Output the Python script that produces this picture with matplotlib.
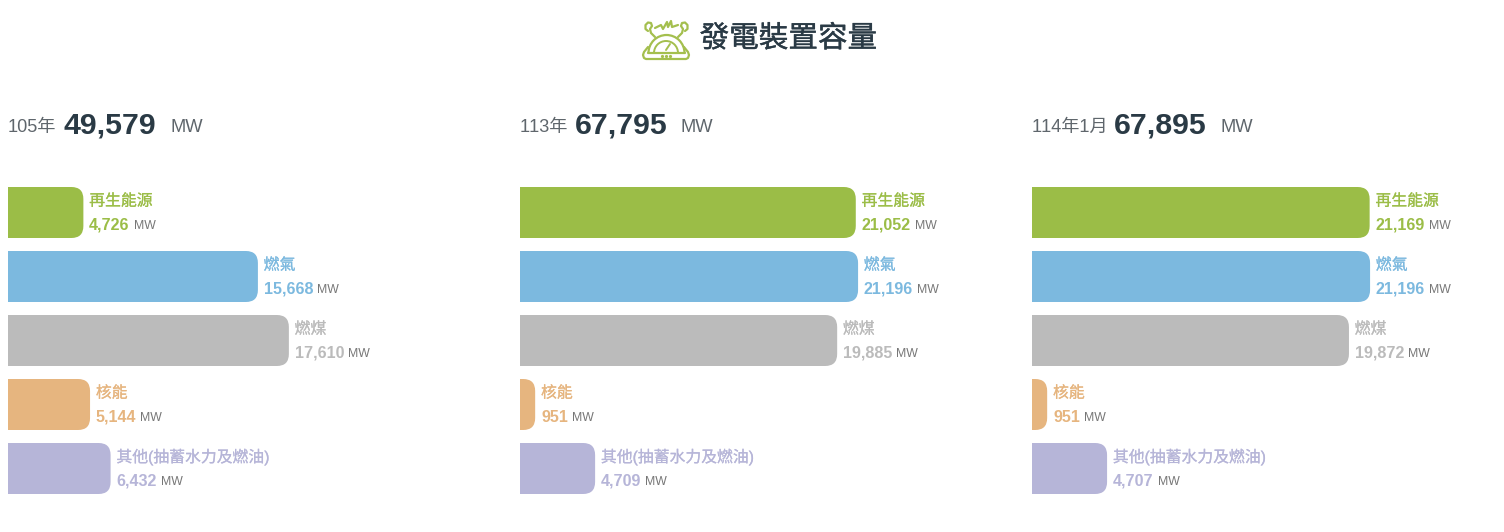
import matplotlib
matplotlib.use("Agg")
import matplotlib.pyplot as plt
import matplotlib.patheffects as pe
from matplotlib.path import Path
from matplotlib.patches import PathPatch, Arc

plt.rcParams['font.family'] = ['Liberation Sans', 'Noto Sans CJK TC', 'DejaVu Sans']
plt.rcParams['text.kerning_factor'] = 6

title = "發電裝置容量"
categories = ["再生能源", "燃氣", "燃煤", "核能", "其他(抽蓄水力及燃油)"]
colors = ["#9BBD47", "#7CB9DF", "#BBBBBB", "#E6B57F", "#B6B5D8"]

periods = ["105年", "113年", "114年1月"]
totals = [49579, 67795, 67895]
values_105 = [4726, 15668, 17610, 5144, 6432]
values_113 = [21052, 21196, 19885, 951, 4709]
values_114 = [21169, 21196, 19872, 951, 4707]
unit = "MW"

W, H = 1504, 532
PANEL_X = [8, 520, 1032]
PANEL_W = 470
PX_PER_MW = 0.01595
TOTAL_X = [64, 575, 1114]
UNIT_X = [170, 681, 1220]
DARK = "#2A3A45"
GRAY = "#5F666C"

fig = plt.figure(figsize=(W / 100, H / 100), dpi=100)
renderer = fig.canvas.get_renderer()


def fx(x):
    return x / W


def fy(y):
    return 1 - y / H


def rounded_bar(ax, row, value, height, color):
    # square on the left, rounded on the right, radius in pixels
    rx = min(12 / PX_PER_MW, value)
    ry = 12 / 64
    top, bottom = row - height / 2, row + height / 2
    verts = [(0, top), (value - rx, top), (value, top), (value, top + ry),
             (value, bottom - ry), (value, bottom), (value - rx, bottom),
             (0, bottom), (0, top)]
    codes = [Path.MOVETO, Path.LINETO, Path.CURVE3, Path.CURVE3,
             Path.LINETO, Path.CURVE3, Path.CURVE3, Path.LINETO, Path.CLOSEPOLY]
    ax.add_patch(PathPatch(Path(verts, codes), facecolor=color, edgecolor="none"))


def draw_panel(x0, period, total, values, total_x, unit_x):
    ax = fig.add_axes([fx(x0), fy(500.5), PANEL_W / W, 320 / H])
    ax.set_xlim(0, PANEL_W / PX_PER_MW)
    ax.set_ylim(4.5, -0.5)
    ax.axis("off")

    fig.text(fx(x0), fy(132), period, fontsize=13.1, color=GRAY, va="baseline")
    fig.text(fx(total_x), fy(133), f"{total:,}", fontsize=21.8, fontweight="bold",
             color=DARK, va="baseline")
    fig.text(fx(unit_x), fy(132), unit, fontsize=13.2, color=GRAY, va="baseline")

    for row, (name, value, color) in enumerate(zip(categories, values, colors)):
        rounded_bar(ax, row, value, 51 / 64, color)
        name_text = ax.annotate(name, (value, row), xytext=(4.2, 8.2), textcoords="offset points",
                                fontsize=11.4, color=color, va="center", ha="left")
        # the reference labels look semi bold
        name_text.set_path_effects([pe.withStroke(linewidth=0.15, foreground=color)])
        val = ax.annotate(f"{value:,}", (value, row), xytext=(4.2, -9.2),
                          textcoords="offset points", fontsize=11.6, fontweight="bold",
                          color=color, va="center", ha="left")
        val_w = val.get_window_extent(renderer).width
        ax.annotate(unit, (value, row), xytext=(4.2 + (val_w + 4) * 0.72, -9.6),
                    textcoords="offset points", fontsize=8.8, color="#777777",
                    va="center", ha="left")


def draw_icon():
    ax = fig.add_axes([fx(640), fy(62), 52 / W, 44 / H])
    ax.set_xlim(640, 692)
    ax.set_ylim(62, 18)
    ax.axis("off")
    green = "#A4BF4E"
    kw = dict(color=green, lw=1.6, solid_capstyle="round", solid_joinstyle="round")
    # base
    ax.plot([648, 644, 643, 644, 646, 686, 688, 689, 688, 684],
            [47, 52, 55, 58, 59, 59, 58, 55, 52, 47], **kw)
    ax.plot([648, 685], [53, 53], **kw)
    # dome and gauge
    ax.add_patch(Arc((666.5, 53), 36, 36, theta1=180, theta2=360, color=green, lw=1.6))
    ax.add_patch(Arc((666, 53), 24, 24, theta1=180, theta2=360, color=green, lw=1.4))
    ax.plot([666, 670], [50, 44], color=green, lw=1.4, solid_capstyle="round")
    ax.plot([662, 666, 670], [56, 56, 56], ls="none", marker="o", ms=1.3, color=green)
    # handset ends
    ax.plot([648, 645.5, 645.5, 648, 651, 652, 650, 651, 655],
            [31, 29, 25, 22.5, 23, 26, 29, 33, 37], **kw)
    ax.plot([685, 687.5, 687.5, 685, 682, 681, 683, 682, 678],
            [31, 29, 25, 22.5, 23, 26, 29, 33, 37], **kw)
    # spark
    ax.plot([655, 661, 663, 667, 668, 671, 672, 678], [28, 25, 29, 22, 27, 21, 27, 25], **kw)


for x0, period, total, values, total_x, unit_x in zip(
        PANEL_X, periods, totals, [values_105, values_113, values_114], TOTAL_X, UNIT_X):
    draw_panel(x0, period, total, values, total_x, unit_x)

draw_icon()
title_text = fig.text(fx(788.5), fy(39), title, fontsize=21.3, color=DARK, ha="center", va="center")
title_text.set_path_effects([pe.withStroke(linewidth=0.3, foreground=DARK)])

fig.savefig("out.png", dpi=100, facecolor="white")
